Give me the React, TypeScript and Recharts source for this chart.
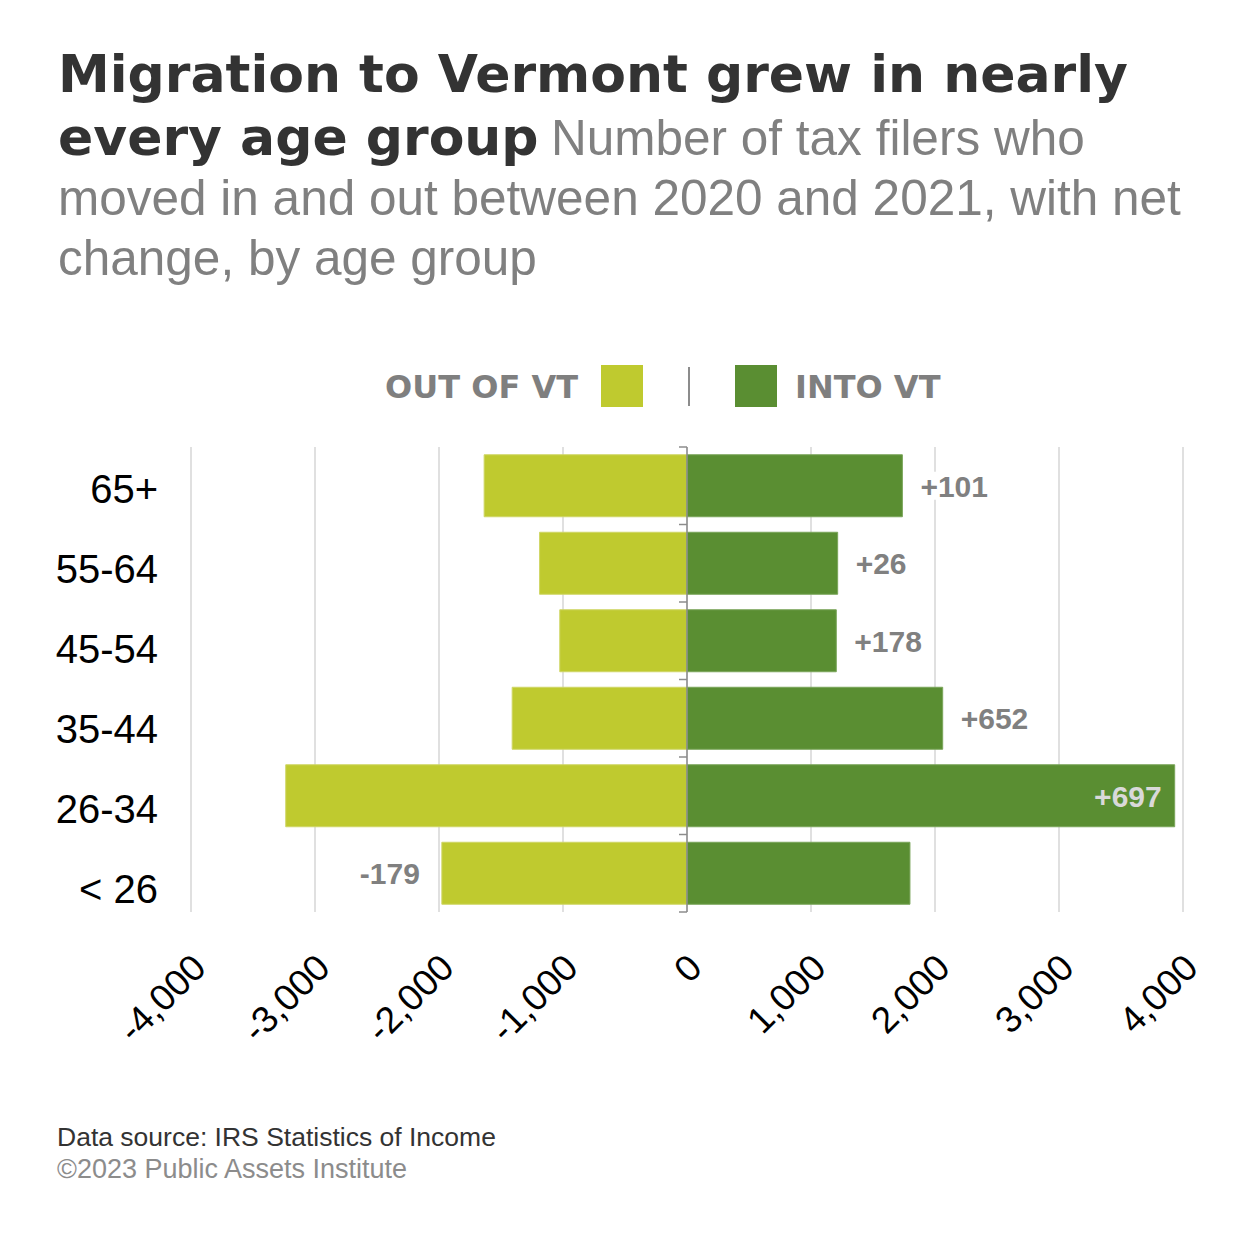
import { Bar, BarChart, CartesianGrid, LabelList, ReferenceLine, XAxis, YAxis } from "recharts";

const ageGroups = ["65+", "55-64", "45-54", "35-44", "26-34", "< 26"];
const outOfVt = [1636, 1189, 1026, 1410, 3236, 1977];
const intoVt = [1737, 1215, 1204, 2062, 3933, 1798];
const netChange = [101, 26, 178, 652, 697, -179];
const xTicks = [-4000, -3000, -2000, -1000, 0, 1000, 2000, 3000, 4000];

const OUT_COLOR = "#bfca2f";
const IN_COLOR = "#5a8e32";
const LABEL_GRAY = "#808080";
const SANS = "'Liberation Sans', Arial, sans-serif";
const HEAVY = "'DejaVu Sans', sans-serif";

const PLOT_RIGHT = 1183;
const LABEL_SIZE = 30;

const data = ageGroups.map((group, i) => ({
  group,
  out: -outOfVt[i],
  into: intoVt[i],
  net: netChange[i],
}));

const fmtNet = (v: number) => (v > 0 ? `+${v}` : `${v}`);
const textWidth = (s: string) => s.length * LABEL_SIZE * 0.57;

function readBox(props: any) {
  const vb = props.viewBox || {};
  const x = props.x ?? vb.x;
  const y = props.y ?? vb.y;
  const width = props.width ?? vb.width;
  const height = props.height ?? vb.height;
  return { left: Math.min(x, x + width), right: Math.max(x, x + width), cy: y + height / 2 };
}

// net label for positive changes, at the end of the "into" bar
function InLabel(props: any) {
  const v = Number(props.value);
  if (!(v >= 0)) return null;
  const { right, cy } = readBox(props);
  const s = fmtNet(v);
  const w = textWidth(s);
  const inside = right + 18 + w > PLOT_RIGHT;
  if (inside) {
    return (
      <text x={right - 13} y={cy} dy="0.36em" textAnchor="end" fontFamily={SANS} fontWeight="bold" fontSize={LABEL_SIZE} fill="#d9d9d9">
        {s}
      </text>
    );
  }
  const tx = right + 18;
  return (
    <g>
      <rect x={tx - 4} y={cy - 14} width={w + 14} height={28} fill="#fff" />
      <text x={tx} y={cy} dy="0.36em" textAnchor="start" fontFamily={SANS} fontWeight="bold" fontSize={LABEL_SIZE} fill={LABEL_GRAY}>
        {s}
      </text>
    </g>
  );
}

// net label for negative changes, before the "out" bar
function OutLabel(props: any) {
  const v = Number(props.value);
  if (!(v < 0)) return null;
  const { left, cy } = readBox(props);
  const s = fmtNet(v);
  const w = textWidth(s);
  const tx = left - 22;
  return (
    <g>
      <rect x={tx - w - 10} y={cy - 14} width={w + 14} height={28} fill="#fff" />
      <text x={tx} y={cy} dy="0.36em" textAnchor="end" fontFamily={SANS} fontWeight="bold" fontSize={LABEL_SIZE} fill={LABEL_GRAY}>
        {s}
      </text>
    </g>
  );
}

// category labels sit on a slightly looser spacing than the bars in the original
function YTick(props: any) {
  const { x, y, payload, index } = props;
  return (
    <text x={x} y={y + 3 + index * 2.5} dy="0.36em" textAnchor="end" fontFamily={SANS} fontSize={40} fill="#000">
      {payload.value}
    </text>
  );
}

function XTick(props: any) {
  const { x, y, payload } = props;
  const px = x + 17;
  const py = y + 58;
  return (
    <text x={px} y={py} textAnchor="end" transform={`rotate(-45 ${px} ${py})`} fontFamily={SANS} fontSize={37} fill="#000">
      {Number(payload.value).toLocaleString("en-US")}
    </text>
  );
}

function CenterAxis(props: any) {
  const { x1, y1, y2 } = props;
  const top = Math.min(y1, y2);
  const bottom = Math.max(y1, y2);
  const band = (bottom - top) / ageGroups.length;
  const ticks = ageGroups.map((_, i) => top + band * i).concat(bottom);
  return (
    <g stroke="#8c8c8c" strokeWidth={1.5}>
      <line x1={x1} x2={x1} y1={top} y2={bottom} />
      {ticks.map((t, i) => (
        <line key={i} x1={x1 - 8} x2={x1} y1={t} y2={t} />
      ))}
    </g>
  );
}

export default function App() {
  return (
    <div style={{ position: "absolute", left: 0, top: 0, width: 1260, height: 1236, background: "#fff" }}>
      <BarChart
        width={1260}
        height={1236}
        data={data}
        layout="vertical"
        stackOffset="sign"
        barCategoryGap="10%"
        margin={{ top: 447, right: 77, bottom: 204, left: 71 }}
      >
        <CartesianGrid horizontal={false} stroke="#d6d6d6" strokeWidth={1.5} />
        <XAxis
          type="number"
          domain={[-4000, 4000]}
          ticks={xTicks}
          interval={0}
          height={120}
          axisLine={false}
          tickLine={false}
          tickSize={0}
          tickMargin={0}
          tick={<XTick />}
        />
        <YAxis
          type="category"
          dataKey="group"
          width={120}
          axisLine={false}
          tickLine={false}
          tickSize={0}
          tickMargin={33}
          tick={<YTick />}
        />
        <Bar dataKey="out" stackId="a" fill={OUT_COLOR} stroke="#cfd666" strokeWidth={1} isAnimationActive={false}>
          <LabelList dataKey="net" content={<OutLabel />} />
        </Bar>
        <Bar dataKey="into" stackId="a" fill={IN_COLOR} stroke="#7aa55a" strokeWidth={1} isAnimationActive={false}>
          <LabelList dataKey="net" content={<InLabel />} />
        </Bar>
        <ReferenceLine x={0} shape={<CenterAxis />} />
      </BarChart>

      <svg width={1260} height={1236} style={{ position: "absolute", left: 0, top: 0, pointerEvents: "none" }}>
        <text x={58} y={92} fontFamily={HEAVY} fontWeight="bold" fontSize={52} fill="#333">
          Migration to Vermont grew in nearly
        </text>
        <text y={155} fontSize={52}>
          <tspan x={58} fontFamily={HEAVY} fontWeight="bold" fill="#333">
            every age group
          </tspan>
          <tspan x={551} fontFamily={SANS} fontSize={49.5} fill={LABEL_GRAY}>
            Number of tax filers who
          </tspan>
        </text>
        <text x={58} y={215} fontFamily={SANS} fontSize={49.5} fill={LABEL_GRAY}>
          moved in and out between 2020 and 2021, with net
        </text>
        <text x={58} y={275} fontFamily={SANS} fontSize={49.5} fill={LABEL_GRAY}>
          change, by age group
        </text>

        <text x={578} y={398} textAnchor="end" fontFamily={HEAVY} fontWeight="bold" fontSize={32} fill="#7f7f7f">
          OUT OF VT
        </text>
        <rect x={601} y={365} width={42} height={42} fill={OUT_COLOR} />
        <line x1={689} x2={689} y1={367} y2={406} stroke="#8c8c8c" strokeWidth={2} />
        <rect x={735} y={365} width={42} height={42} fill={IN_COLOR} />
        <text x={795} y={398} fontFamily={HEAVY} fontWeight="bold" fontSize={32} fill="#7f7f7f">
          INTO VT
        </text>

        <text x={57} y={1146} fontFamily={SANS} fontSize={26.5} fill="#333">
          Data source: IRS Statistics of Income
        </text>
        <text x={57} y={1178} fontFamily={SANS} fontSize={27} fill="#8c8c8c">
          ©2023 Public Assets Institute
        </text>
      </svg>
    </div>
  );
}
